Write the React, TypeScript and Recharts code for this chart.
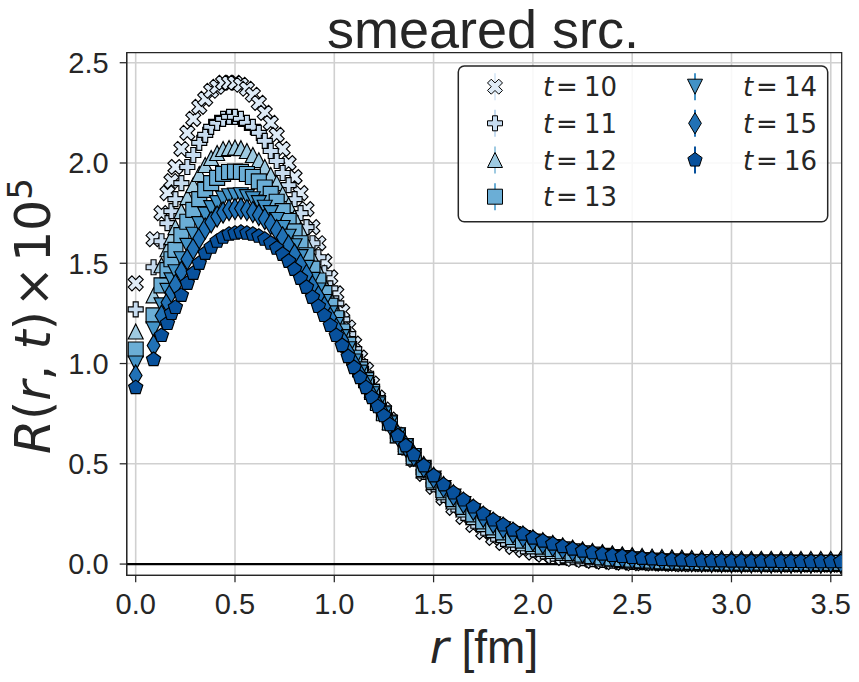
import React from 'react';
import { ScatterChart, Scatter, XAxis, YAxis, CartesianGrid, ReferenceLine, ReferenceArea } from 'recharts';

const R = [
  0.0, 0.09, 0.13, 0.16, 0.18, 0.2, 0.23, 0.26, 0.29, 0.32,
  0.35, 0.38, 0.41, 0.44, 0.47, 0.5, 0.53, 0.56, 0.59, 0.62,
  0.65, 0.68, 0.71, 0.74, 0.77, 0.8, 0.83, 0.86, 0.89, 0.92,
  0.95, 0.98, 1.01, 1.04, 1.07, 1.1, 1.13, 1.16, 1.19, 1.22,
  1.25, 1.28, 1.32, 1.36, 1.4, 1.45, 1.5, 1.55, 1.6, 1.65,
  1.7, 1.75, 1.8, 1.85, 1.9, 1.95, 2.0, 2.05, 2.1, 2.15,
  2.2, 2.25, 2.3, 2.35, 2.4, 2.45, 2.5, 2.55, 2.6, 2.65,
  2.7, 2.75, 2.8, 2.85, 2.9, 2.95, 3.0, 3.05, 3.1, 3.15,
  3.2, 3.25, 3.3, 3.35, 3.4, 3.45, 3.5, 3.55,
];

const T10 = [
  1.4, 1.62, 1.75, 1.85, 1.91, 1.98, 2.07, 2.15, 2.22, 2.28,
  2.32, 2.36, 2.38, 2.4, 2.4, 2.4, 2.39, 2.37, 2.34, 2.3,
  2.25, 2.2, 2.14, 2.07, 2.0, 1.93, 1.85, 1.77, 1.68, 1.6,
  1.51, 1.43, 1.35, 1.26, 1.18, 1.1, 1.03, 0.97, 0.9, 0.83,
  0.77, 0.72, 0.645, 0.58, 0.52, 0.45, 0.385, 0.33, 0.28, 0.235,
  0.195, 0.16, 0.13, 0.105, 0.085, 0.07, 0.057, 0.047, 0.038, 0.031,
  0.025, 0.02, 0.016, 0.012, 0.009, 0.007, 0.005, 0.004, 0.003, 0.002,
  0.001, 0.0, 0.0, -0.001, -0.001, -0.002, -0.002, -0.002, -0.002, -0.002,
  -0.003, -0.003, -0.003, -0.003, -0.003, -0.003, -0.003, -0.003,
];

const T11 = [
  1.27, 1.48, 1.61, 1.7, 1.76, 1.82, 1.9, 1.98, 2.04, 2.1,
  2.14, 2.18, 2.2, 2.22, 2.23, 2.23, 2.22, 2.2, 2.18, 2.15,
  2.11, 2.06, 2.01, 1.95, 1.89, 1.82, 1.75, 1.68, 1.6, 1.53,
  1.45, 1.375, 1.3, 1.22, 1.147, 1.072, 1.007, 0.949, 0.884, 0.82,
  0.763, 0.714, 0.644, 0.582, 0.526, 0.459, 0.398, 0.345, 0.297, 0.255,
  0.216, 0.181, 0.151, 0.126, 0.105, 0.088, 0.074, 0.063, 0.052, 0.044,
  0.037, 0.03, 0.025, 0.021, 0.017, 0.014, 0.011, 0.01, 0.008, 0.007,
  0.006, 0.005, 0.004, 0.003, 0.003, 0.002, 0.002, 0.002, 0.002, 0.002,
  0.001, 0.001, 0.001, 0.001, 0.001, 0.001, 0.001, 0.001,
];

const T12 = [
  1.16, 1.34, 1.49, 1.57, 1.63, 1.68, 1.76, 1.83, 1.89, 1.945,
  1.99, 2.025, 2.05, 2.07, 2.075, 2.077, 2.074, 2.06, 2.04, 2.014,
  1.98, 1.94, 1.9, 1.845, 1.79, 1.73, 1.667, 1.6, 1.53, 1.465,
  1.394, 1.327, 1.26, 1.187, 1.118, 1.048, 0.987, 0.931, 0.87, 0.811,
  0.757, 0.709, 0.643, 0.584, 0.531, 0.467, 0.409, 0.358, 0.312, 0.272,
  0.234, 0.199, 0.169, 0.144, 0.122, 0.104, 0.088, 0.076, 0.065, 0.055,
  0.047, 0.039, 0.034, 0.028, 0.024, 0.02, 0.017, 0.015, 0.013, 0.011,
  0.01, 0.009, 0.008, 0.007, 0.006, 0.006, 0.005, 0.005, 0.005, 0.005,
  0.004, 0.004, 0.004, 0.004, 0.004, 0.004, 0.004, 0.004,
];

const T13 = [
  1.07, 1.24, 1.39, 1.466, 1.52, 1.567, 1.64, 1.707, 1.766, 1.82,
  1.866, 1.9, 1.926, 1.946, 1.955, 1.957, 1.956, 1.945, 1.93, 1.908,
  1.878, 1.846, 1.807, 1.76, 1.711, 1.659, 1.6, 1.54, 1.473, 1.414,
  1.351, 1.288, 1.226, 1.16, 1.094, 1.029, 0.971, 0.917, 0.859, 0.803,
  0.752, 0.705, 0.642, 0.586, 0.535, 0.474, 0.417, 0.368, 0.324, 0.285,
  0.248, 0.213, 0.183, 0.158, 0.135, 0.117, 0.1, 0.087, 0.075, 0.064,
  0.055, 0.047, 0.04, 0.034, 0.029, 0.025, 0.022, 0.019, 0.017, 0.014,
  0.013, 0.012, 0.011, 0.01, 0.009, 0.009, 0.008, 0.008, 0.007, 0.007,
  0.007, 0.007, 0.007, 0.006, 0.006, 0.006, 0.006, 0.006,
];

const T14 = [
  1.0, 1.17, 1.29, 1.362, 1.415, 1.455, 1.52, 1.587, 1.642, 1.695,
  1.742, 1.775, 1.8, 1.822, 1.834, 1.837, 1.839, 1.83, 1.819, 1.8,
  1.777, 1.75, 1.716, 1.676, 1.632, 1.585, 1.531, 1.477, 1.417, 1.364,
  1.307, 1.25, 1.192, 1.132, 1.071, 1.01, 0.955, 0.902, 0.847, 0.796,
  0.747, 0.701, 0.641, 0.588, 0.539, 0.48, 0.426, 0.379, 0.336, 0.299,
  0.263, 0.228, 0.198, 0.173, 0.149, 0.13, 0.112, 0.098, 0.085, 0.073,
  0.063, 0.054, 0.047, 0.041, 0.035, 0.03, 0.024, 0.019, 0.014, 0.01,
  0.006, 0.003, 0.0, -0.002, -0.004, -0.005, -0.006, -0.007, -0.007, -0.008,
  -0.008, -0.008, -0.008, -0.008, -0.008, -0.008, -0.008, -0.008,
];

const T15 = [
  0.94, 1.09, 1.238, 1.304, 1.356, 1.392, 1.457, 1.52, 1.573, 1.625,
  1.673, 1.705, 1.733, 1.753, 1.766, 1.77, 1.773, 1.765, 1.756, 1.741,
  1.721, 1.696, 1.665, 1.629, 1.588, 1.544, 1.493, 1.442, 1.386, 1.335,
  1.283, 1.228, 1.174, 1.117, 1.058, 0.999, 0.946, 0.894, 0.841, 0.792,
  0.745, 0.699, 0.641, 0.588, 0.541, 0.484, 0.431, 0.385, 0.343, 0.306,
  0.271, 0.236, 0.206, 0.181, 0.156, 0.137, 0.118, 0.104, 0.09, 0.078,
  0.067, 0.058, 0.05, 0.044, 0.038, 0.033, 0.029, 0.025, 0.022, 0.02,
  0.018, 0.017, 0.015, 0.014, 0.013, 0.013, 0.012, 0.012, 0.011, 0.011,
  0.011, 0.01, 0.01, 0.01, 0.01, 0.01, 0.01, 0.01,
];

const T16 = [
  0.88, 1.02, 1.14, 1.2, 1.25, 1.28, 1.34, 1.4, 1.45, 1.5,
  1.55, 1.58, 1.61, 1.63, 1.645, 1.65, 1.655, 1.65, 1.645, 1.635,
  1.62, 1.6, 1.575, 1.545, 1.51, 1.47, 1.425, 1.38, 1.33, 1.285,
  1.24, 1.19, 1.14, 1.09, 1.035, 0.98, 0.93, 0.88, 0.83, 0.785,
  0.74, 0.695, 0.64, 0.59, 0.545, 0.49, 0.44, 0.395, 0.355, 0.32,
  0.285, 0.25, 0.22, 0.195, 0.17, 0.15, 0.13, 0.115, 0.1, 0.087,
  0.075, 0.065, 0.057, 0.05, 0.043, 0.038, 0.033, 0.029, 0.026, 0.023,
  0.021, 0.02, 0.018, 0.017, 0.016, 0.016, 0.015, 0.015, 0.014, 0.014,
  0.014, 0.013, 0.013, 0.013, 0.012, 0.012, 0.012, 0.012,
];

const X_TICKS = [0, 0.5, 1.0, 1.5, 2.0, 2.5, 3.0, 3.5];
const Y_TICKS = [0, 0.5, 1.0, 1.5, 2.0, 2.5];
const LABELS = ['10', '11', '12', '13', '14', '15', '16'];
const COLORS = ['#deebf7', '#c6dbef', '#9ecae1', '#6baed6', '#4292c6', '#2171b5', '#08519c'];
const MARKERS = ['X', 'P', '^', 's', 'v', 'd', 'p'];
const VALUES = [T10, T11, T12, T13, T14, T15, T16];

const X_DOMAIN: [number, number] = [-0.0453, 3.555];
const Y_DOMAIN: [number, number] = [-0.056, 2.55];

const FONT = '"Liberation Sans", Arial, sans-serif';
const MATH = '"DejaVu Sans", sans-serif';
const INK = '#262626';
const MS = 15;

function poly(pts: number[][], cx: number, cy: number) {
  return pts.map((p, i) => `${i === 0 ? 'M' : 'L'}${(cx + p[0]).toFixed(2)},${(cy + p[1]).toFixed(2)}`).join('') + 'Z';
}

function markerPath(type: string, cx: number, cy: number, s: number) {
  const h = s / 2;
  if (type === 'X') {
    const u = [[0.25, 0], [0.5, 0.25], [0.75, 0], [1, 0.25], [0.75, 0.5], [1, 0.75], [0.75, 1], [0.5, 0.75], [0.25, 1], [0, 0.75], [0.25, 0.5], [0, 0.25]];
    return poly(u.map(([a, b]) => [(a - 0.5) * s, (b - 0.5) * s]), cx, cy);
  }
  if (type === 'P') {
    const t = 1 / 3, q = 2 / 3;
    const u = [[t, 0], [q, 0], [q, t], [1, t], [1, q], [q, q], [q, 1], [t, 1], [t, q], [0, q], [0, t], [t, t]];
    return poly(u.map(([a, b]) => [(a - 0.5) * s, (b - 0.5) * s]), cx, cy);
  }
  if (type === '^') return poly([[0, -h], [h, h], [-h, h]], cx, cy);
  if (type === 'v') return poly([[0, h], [h, -h], [-h, -h]], cx, cy);
  if (type === 's') return poly([[-h, -h], [h, -h], [h, h], [-h, h]], cx, cy);
  if (type === 'd') {
    const hh = 0.7071 * s, hw = 0.6 * 0.7071 * s;
    return poly([[0, -hh], [hw, 0], [0, hh], [-hw, 0]], cx, cy);
  }
  const pts: number[][] = [];
  for (let k = 0; k < 5; k++) {
    const a = (-90 + 72 * k) * Math.PI / 180;
    pts.push([h * Math.cos(a), h * Math.sin(a)]);
  }
  return poly(pts, cx, cy);
}

const makeShape = (type: string, color: string) => (props: any) => {
  const { cx, cy } = props;
  if (cx == null || cy == null || isNaN(cx) || isNaN(cy)) return <g />;
  return <path d={markerPath(type, cx, cy, MS)} fill={color} stroke="#000" strokeWidth={1.15} />;
};

const SERIES = LABELS.map((label, i) => ({
  label,
  color: COLORS[i],
  marker: MARKERS[i],
  data: R.map((r, j) => ({ r, v: VALUES[i][j] })),
}));

const fmt = (v: number) => v.toFixed(1);

function Legend() {
  const rows = [86.7, 123.3, 160, 196.7];
  const cols = [
    { mx: 495, tx: 543 },
    { mx: 695, tx: 743 },
  ];
  const items = SERIES.map((s, i) => {
    const col = i < 4 ? cols[0] : cols[1];
    const y = i < 4 ? rows[i] : rows[i - 4];
    return (
      <g key={s.label}>
        <line x1={col.mx} x2={col.mx} y1={y - 13.5} y2={y + 13.5} stroke={s.color} strokeWidth={2} />
        <path d={markerPath(s.marker, col.mx, y, MS)} fill={s.color} stroke="#000" strokeWidth={1} />
        <text y={y + 9.6} fontSize={26} fontFamily={MATH} fill={INK}>
          <tspan x={col.tx} fontStyle="italic">t</tspan>
          <tspan x={col.tx + 13}>=</tspan>
          <tspan x={col.tx + 41}>{s.label}</tspan>
        </text>
      </g>
    );
  });
  return (
    <g>
      <rect x={458.3} y={66} width={369.4} height={155.7} rx={6} ry={6} fill="#ffffff" fillOpacity={0.85} stroke={INK} strokeWidth={1.5} />
      {items}
    </g>
  );
}

export default function App() {
  return (
    <div style={{ position: 'absolute', left: 0, top: 0, width: 859, height: 682, background: '#ffffff' }}>
      <ScatterChart
        width={859}
        height={682}
        margin={{ top: 52.7, right: 17.3, bottom: 76.7, left: 66.7 }}
        style={{ position: 'absolute', left: 0, top: 0 }}
      >
        <CartesianGrid stroke="#d0d0d0" strokeWidth={1.6} horizontalValues={Y_TICKS} verticalValues={X_TICKS} />
        <XAxis
          type="number"
          dataKey="r"
          domain={X_DOMAIN}
          ticks={X_TICKS}
          allowDataOverflow
          tickFormatter={fmt}
          height={30}
          tickSize={7}
          tickMargin={11}
          stroke={INK}
          axisLine={{ stroke: INK, strokeWidth: 1.25 }}
          tickLine={{ stroke: INK, strokeWidth: 1.25 }}
          tick={{ fill: INK, fontSize: 29, fontFamily: FONT }}
          interval={0}
        />
        <YAxis
          type="number"
          dataKey="v"
          domain={Y_DOMAIN}
          ticks={Y_TICKS}
          allowDataOverflow
          tickFormatter={fmt}
          width={60}
          tickSize={7}
          tickMargin={11}
          stroke={INK}
          axisLine={{ stroke: INK, strokeWidth: 1.25 }}
          tickLine={{ stroke: INK, strokeWidth: 1.25 }}
          tick={{ fill: INK, fontSize: 29, fontFamily: FONT }}
          interval={0}
        />
        <ReferenceLine y={0} stroke="#000" strokeWidth={2.2} />
        {SERIES.map((s) => (
          <Scatter
            key={s.label}
            name={`t = ${s.label}`}
            data={s.data}
            fill={s.color}
            isAnimationActive={false}
            shape={makeShape(s.marker, s.color)}
          />
        ))}
        <ReferenceArea x1={X_DOMAIN[0]} x2={X_DOMAIN[1]} y1={Y_DOMAIN[0]} y2={Y_DOMAIN[1]} fill="none" fillOpacity={0} stroke={INK} strokeWidth={1.25} ifOverflow="visible" />
      </ScatterChart>
      <svg width={859} height={682} style={{ position: 'absolute', left: 0, top: 0, pointerEvents: 'none' }}>
        <text x={483} y={47.5} textAnchor="middle" fontSize={54} fontFamily={FONT} fill={INK}>smeared src.</text>
        <text x={484} y={662.7} textAnchor="middle" fontSize={46} fontFamily={FONT} fill={INK}>
          <tspan fontStyle="italic" fontFamily={MATH}>r</tspan>
          <tspan> [fm]</tspan>
        </text>
        <text transform="translate(50,316) rotate(-90)" textAnchor="middle" fontSize={49} fontFamily={MATH} fill={INK}>
          <tspan fontStyle="italic">R</tspan>
          <tspan>(</tspan>
          <tspan fontStyle="italic">r</tspan>
          <tspan>, </tspan>
          <tspan fontStyle="italic">t</tspan>
          <tspan>)</tspan>
          <tspan dx={4}>×</tspan>
          <tspan dx={4}>10</tspan>
          <tspan fontSize={34} dy={-18}>5</tspan>
        </text>
        <Legend />
      </svg>
    </div>
  );
}
